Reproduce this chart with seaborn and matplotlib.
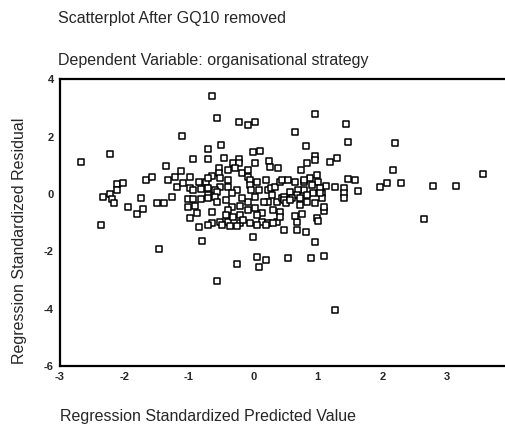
import numpy as np
import pandas as pd
import matplotlib
matplotlib.use("Agg")
import matplotlib.pyplot as plt
import seaborn as sns

sns.set_style("white")
plt.rcParams['font.family'] = ['Liberation Sans', 'DejaVu Sans']

# ============================================================
# Data read off the reference scatterplot
# ============================================================
pred_left = [-2.67, -2.23, -2.37, -2.33, -2.23, -2.19, -2.17, -2.12, -2.03, -2.11,
             -1.95, -1.81, -1.71, -1.74, -1.67, -1.57, -1.49, -1.38, -1.47, -1.36,
             -1.33, -1.22, -1.27, -1.12, -1.10, -1.19, -1.09, -0.99, -1.02, -0.93,
             -0.98, -0.93, -0.85, -0.73, -0.82, -0.71, -1.01, -0.90, -0.99, -0.88,
             -0.84, -0.79, -0.93, -0.70, -0.71, -0.82]
resid_left = [1.11, 1.39, -1.08, -0.10, 0.00, -0.17, -0.31, 0.35, 0.38, 0.14,
              -0.45, -0.70, -0.52, -0.14, 0.49, 0.59, -0.31, -0.31, -1.92, 0.98,
              0.49, 0.59, -0.10, 0.80, 2.02, 0.24, 0.38, 0.59, -0.17, -0.17,
              0.21, 0.14, 0.42, 0.42, 0.17, 0.21, -0.45, -0.42, -0.84, -0.66,
              -1.15, -1.64, 1.22, 1.22, 1.57, -0.17]

pred_mid = [-0.64, -0.57, -0.50, -0.45, -0.22, -0.09, 0.02, 0.00, 0.11, -0.31,
            -0.22, -0.22, 0.02, 0.25, 0.26, 0.39, -0.54, -0.40, -0.29, -0.17,
            -0.08, -0.54, -0.64, -0.71, -0.51, -0.39, -0.09, -0.05, 0.06, -0.05,
            -0.03, -0.51, -0.39, -0.25, -0.33, -0.59, -0.71, -0.70, -0.56, -0.59,
            0.19, 0.08, 0.22, 0.27, 0.29, 0.34, 0.42, 0.37, 0.45, 0.23,
            -0.43, -0.56, -0.33, -0.40, -0.43, -0.64, -0.51, -0.40, -0.31, -0.20,
            -0.20, -0.08, 0.03, 0.14, 0.14, 0.06, -0.05, -0.09, -0.17, 0.03,
            0.16, 0.31, 0.42, 0.37, 0.22, 0.47, 0.00, -0.64, -0.71, -0.16,
            -0.26, -0.37, -0.48, 0.31, 0.20, -0.20, 0.06]
resid_mid = [3.41, 2.65, 1.71, 1.25, 2.51, 2.40, 2.51, 1.46, 1.50, 1.08,
             1.22, 1.08, 1.08, 1.15, 0.94, 0.91, 0.91, 0.84, 0.91, 0.73,
             0.84, 0.73, 0.63, 0.56, 0.56, 0.49, 0.59, 0.49, 0.42, 0.31,
             0.14, 0.24, 0.24, 0.14, 0.03, 0.14, -0.03, -0.14, 0.07, -0.10,
             0.49, 0.14, 0.14, 0.21, -0.03, 0.24, 0.42, -0.28, -0.14, -0.28,
             -0.21, -0.28, -0.45, -0.56, -0.73, -0.63, -0.98, -0.98, -0.80, -1.01,
             -0.73, -0.56, -0.49, -0.66, -0.98, -1.08, -1.01, -0.28, -0.14, -0.10,
             -0.28, -0.56, -0.63, -0.98, -1.01, -1.25, -1.50, -1.01, -1.08, -0.91,
             -1.11, -1.11, -1.08, -1.01, -1.08, -0.42, -0.73]

pred_low = [-0.56, -0.26, 0.05, 0.19, 0.09, 0.54, 0.90, 1.10, 1.26, 0.96,
            0.68, 0.81, 0.67]
resid_low = [-3.03, -2.44, -2.20, -2.30, -2.54, -2.23, -2.23, -2.16, -4.04, -1.67,
             -1.25, -1.32, -0.98]

pred_right = [0.64, 0.95, 0.81, 0.84, 0.95, 0.95, 0.74, 0.99, 1.01, 1.10,
              1.09, 0.76, 0.65, 0.42, 2.65, 1.44, 1.47, 2.20, 1.19, 1.30,
              2.16, 3.57, 1.47, 1.58, 1.97, 2.08, 2.29, 2.79, 3.15, 1.63,
              1.13, 1.26, 1.40, 1.41, 1.41, 1.07, 1.07, 0.45, 0.53, 0.65,
              0.78, 0.88, 0.99, 1.01, 0.91, 0.78, 0.70, 0.68, 0.57, 0.47,
              0.47, 0.50, 1.04, 1.04, 0.93, 0.84, 0.84, 0.73, 0.60, 0.73,
              0.96, 0.57, 0.79]
resid_right = [2.16, 2.79, 1.67, 1.08, 1.32, 1.18, 0.84, -0.84, -0.94, -0.59,
               -0.45, -0.70, -0.77, -0.80, -0.87, 2.44, 1.81, 1.78, 1.11, 1.25,
               0.84, 0.70, 0.52, 0.49, 0.24, 0.38, 0.38, 0.28, 0.28, 0.10,
               0.28, 0.24, 0.21, 0.03, -0.14, 0.03, -0.14, 0.49, 0.49, 0.42,
               0.42, 0.56, 0.66, 0.42, 0.31, 0.14, 0.14, -0.03, 0.07, -0.10,
               -0.21, -0.31, 0.21, 0.03, 0.03, -0.03, -0.28, -0.14, -0.14, -0.38,
               -0.31, -0.21, 0.49]

df = pd.DataFrame({
    "predicted": pred_left + pred_mid + pred_low + pred_right,
    "residual": resid_left + resid_mid + resid_low + resid_right,
})

x_ticks = [-3, -2, -1, 0, 1, 2, 3]
y_ticks = [-6, -4, -2, 0, 2, 4]

# ============================================================
# Plot
# ============================================================
fig = plt.figure(figsize=(5.06, 4.28), dpi=100)
ax = fig.add_axes([0.1186, 0.145, 0.8814, 0.67])

sns.scatterplot(data=df, x="predicted", y="residual", ax=ax,
                marker="s", s=13, facecolor="white", edgecolor="black",
                linewidth=1.1, legend=False)

ax.set_xlim(-3, 3.92)
ax.set_ylim(-6, 4)
ax.set_xticks(x_ticks)
ax.set_yticks(y_ticks)
ax.set_xticklabels([str(t) for t in x_ticks], fontsize=8, fontweight="bold")
ax.set_yticklabels([str(t) for t in y_ticks], fontsize=8, fontweight="bold")
ax.tick_params(axis="both", direction="out", length=2.5, width=1.5, pad=2, color="black")
ax.set_xlabel("")
ax.set_ylabel("")

for side in ["left", "bottom", "top"]:
    ax.spines[side].set_color("black")
    ax.spines[side].set_linewidth(1.6)
ax.spines["right"].set_visible(False)

fig.text(58 / 506, 1 - 18 / 428, "Scatterplot After GQ10 removed",
         fontsize=11.5, va="center", ha="left")
fig.text(58 / 506, 1 - 61 / 428, "Dependent Variable: organisational strategy",
         fontsize=11.5, va="center", ha="left")
fig.text(20 / 506, 1 - 241 / 428, "Regression Standardized Residual",
         fontsize=11.5, va="center", ha="center", rotation=90)
fig.text(60 / 506, 1 - 417 / 428, "Regression Standardized Predicted Value",
         fontsize=11.5, va="center", ha="left")

fig.savefig("out.png", dpi=100)
